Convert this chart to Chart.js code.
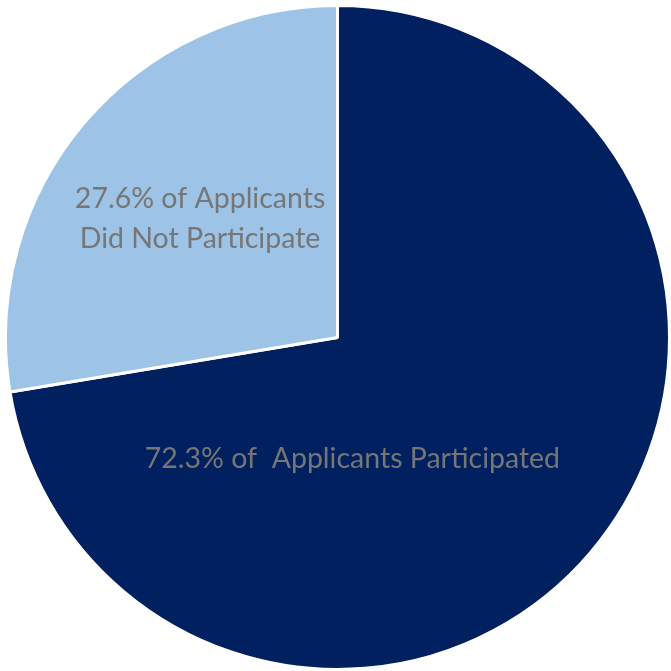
<!DOCTYPE html>
<html><head><meta charset="utf-8">
<script src="https://cdn.jsdelivr.net/npm/chart.js@4.4.0/dist/chart.umd.min.js"></script>
<style>html,body{margin:0;padding:0;background:#fff;}#wrap{width:671px;height:671px;}</style>
</head><body><div id="wrap"><canvas id="c" width="671" height="671"></canvas></div>
<script>
const categories = ["Participated", "Did Not Participate"];
const values = [72.3, 27.6];
const labelLines = [["72.3% of  Applicants Participated"], ["27.6% of Applicants", "Did Not Participate"]];
const colors = ["#002060", "#9DC3E6"];
const labelOffsets = [[0.045, 0.366], [-0.414, -0.357]];

const labelPlugin = {
  id: 'sliceLabels',
  afterDatasetsDraw(chart) {
    const ctx = chart.ctx;
    const meta = chart.getDatasetMeta(0);
    meta.data.forEach((arc, i) => {
      const r = arc.outerRadius;
      const x = arc.x + labelOffsets[i][0] * r;
      const y = arc.y + labelOffsets[i][1] * r;
      ctx.save();
      ctx.font = '28.5px Lato, "Open Sans", sans-serif';
      ctx.fillStyle = '#767676';
      ctx.textAlign = 'center';
      ctx.textBaseline = 'middle';
      const lines = labelLines[i];
      const lh = 40;
      lines.forEach((t, k) => {
        ctx.fillText(t, x, y + (k - (lines.length - 1) / 2) * lh);
      });
      ctx.restore();
    });
  }
};

new Chart(document.getElementById('c'), {
  type: 'pie',
  data: { labels: categories, datasets: [{ data: values, backgroundColor: colors, borderColor: '#ffffff', borderWidth: 3 }] },
  options: {
    responsive: false, animation: false,
    layout: { padding: { left: 4, top: 4, right: 0, bottom: 0 } },
    plugins: { legend: { display: false }, tooltip: { enabled: false } }
  },
  plugins: [labelPlugin]
});
</script></body></html>
